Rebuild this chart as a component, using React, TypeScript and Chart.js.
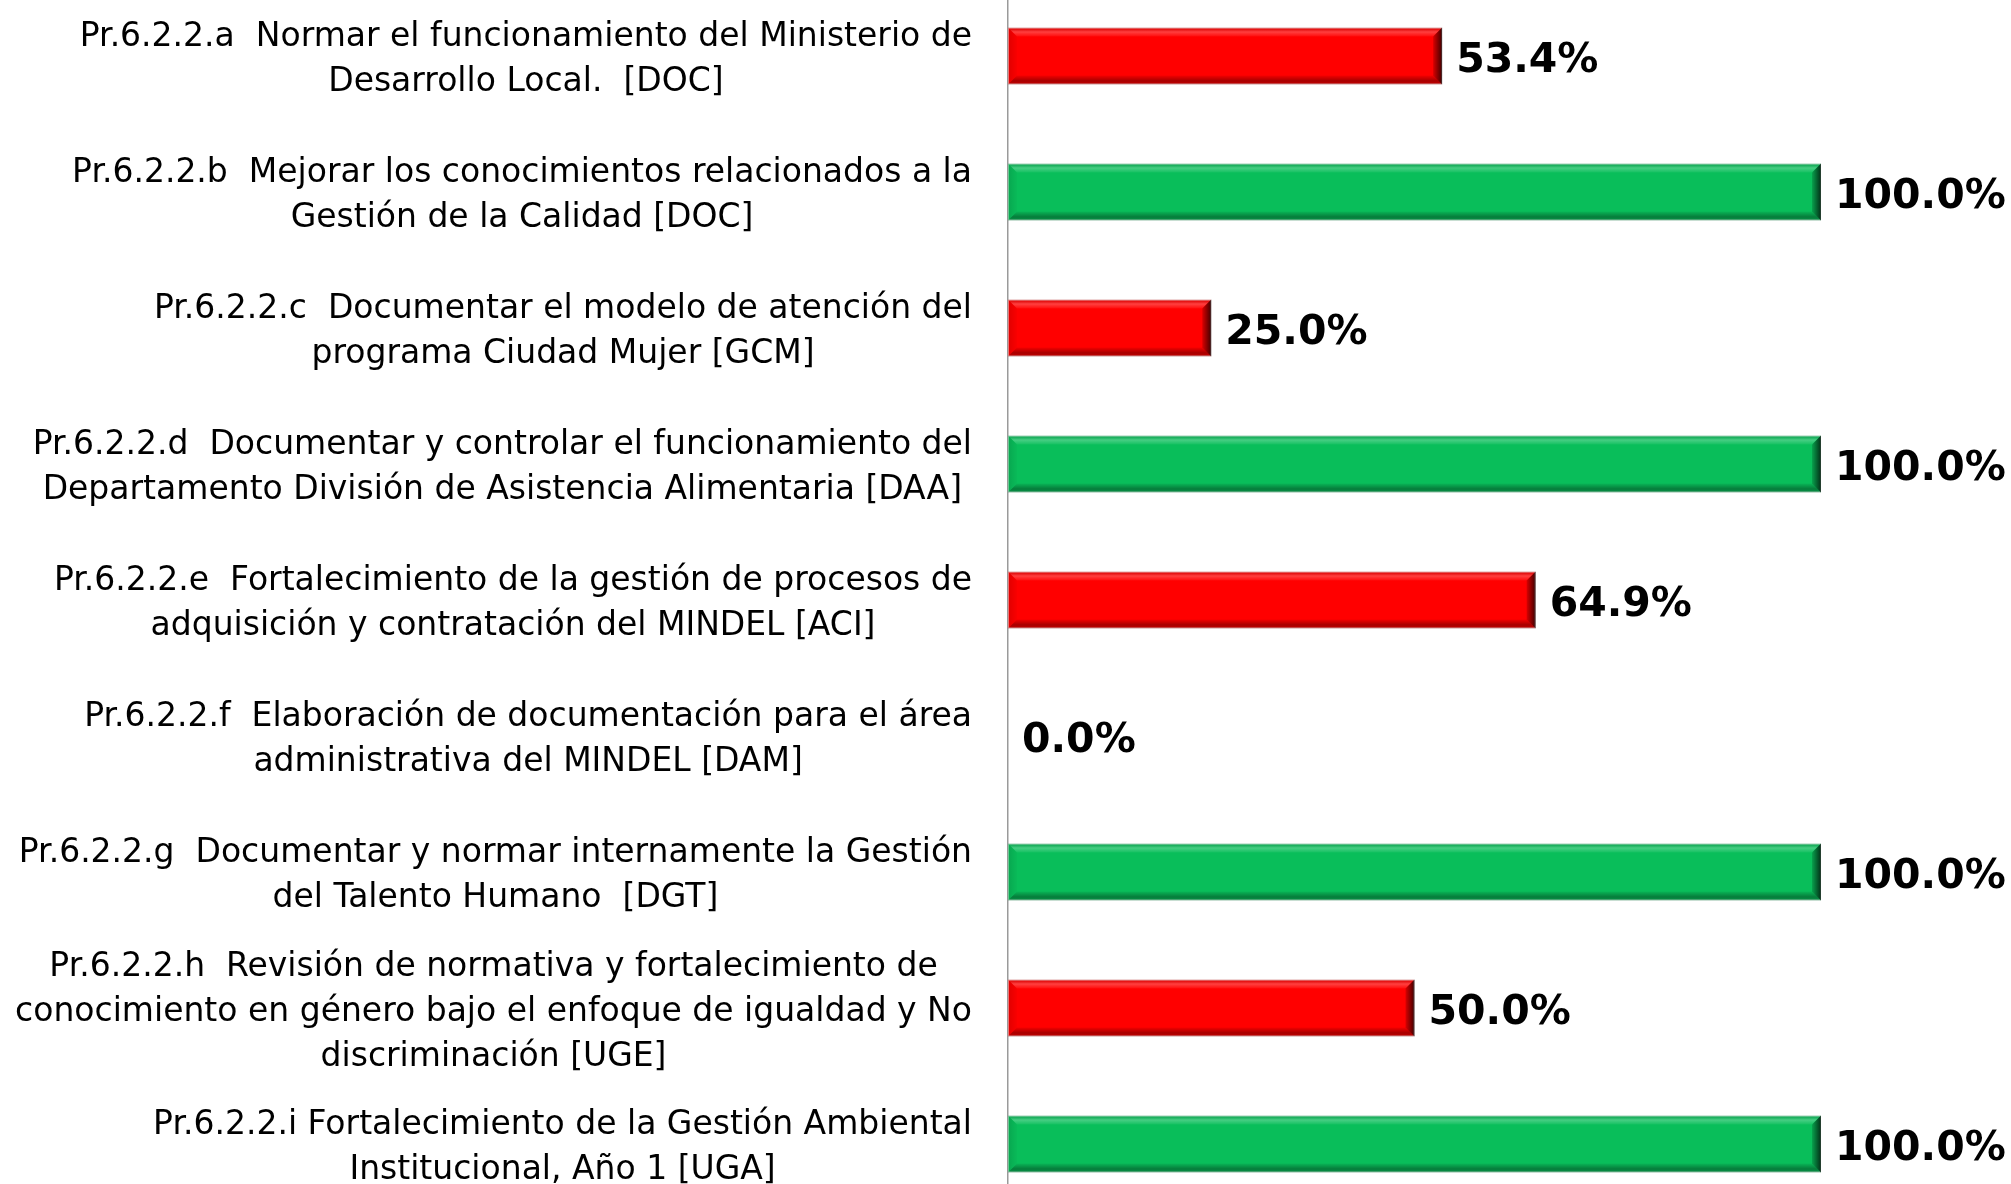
import { useEffect, useRef } from "react";
import { Chart, registerables } from "chart.js";

Chart.register(...registerables);

const categoryLabels: string[][] = [
  ["Pr.6.2.2.a  Normar el funcionamiento del Ministerio de", "Desarrollo Local.  [DOC]"],
  ["Pr.6.2.2.b  Mejorar los conocimientos relacionados a la", "Gestión de la Calidad [DOC]"],
  ["Pr.6.2.2.c  Documentar el modelo de atención del", "programa Ciudad Mujer [GCM]"],
  ["Pr.6.2.2.d  Documentar y controlar el funcionamiento del", "Departamento División de Asistencia Alimentaria [DAA]"],
  ["Pr.6.2.2.e  Fortalecimiento de la gestión de procesos de", "adquisición y contratación del MINDEL [ACI]"],
  ["Pr.6.2.2.f  Elaboración de documentación para el área", "administrativa del MINDEL [DAM]"],
  ["Pr.6.2.2.g  Documentar y normar internamente la Gestión", "del Talento Humano  [DGT]"],
  [
    "Pr.6.2.2.h  Revisión de normativa y fortalecimiento de",
    "conocimiento en género bajo el enfoque de igualdad y No",
    "discriminación [UGE]",
  ],
  ["Pr.6.2.2.i Fortalecimiento de la Gestión Ambiental", "Institucional, Año 1 [UGA]"],
];

const progressValues: number[] = [53.4, 100.0, 25.0, 100.0, 64.9, 0.0, 100.0, 50.0, 100.0];

const valueLabels: string[] = ["53.4%", "100.0%", "25.0%", "100.0%", "64.9%", "0.0%", "100.0%", "50.0%", "100.0%"];

const RED = "#FF0000";
const RED_BORDER = "#FF8A8A";
const GREEN = "#09BE5A";
const GREEN_BORDER = "#7EDDA6";

const LABEL_FONT = '33px "DejaVu Sans"';
const VALUE_FONT = 'bold 41px "DejaVu Sans"';

const bevelPlugin = {
  id: "bevel",
  afterDatasetsDraw(chart: any) {
    const ctx = chart.ctx as CanvasRenderingContext2D;
    const meta = chart.getDatasetMeta(0);
    meta.data.forEach((el: any) => {
      const left = Math.min(el.base, el.x);
      const right = Math.max(el.base, el.x);
      const top = el.y - el.height / 2;
      const bottom = el.y + el.height / 2;
      const w = right - left;
      if (w < 2) return;
      const b = Math.min(9, w / 2);
      ctx.save();
      let g = ctx.createLinearGradient(0, top, 0, top + b);
      g.addColorStop(0, "rgba(0,0,0,0.12)");
      g.addColorStop(0.5, "rgba(255,255,255,0.25)");
      g.addColorStop(1, "rgba(255,255,255,0.05)");
      ctx.fillStyle = g;
      ctx.beginPath();
      ctx.moveTo(left, top);
      ctx.lineTo(right, top);
      ctx.lineTo(right - b, top + b);
      ctx.lineTo(left + b, top + b);
      ctx.closePath();
      ctx.fill();
      g = ctx.createLinearGradient(0, bottom - b, 0, bottom);
      g.addColorStop(0, "rgba(0,0,0,0.05)");
      g.addColorStop(0.6, "rgba(0,0,0,0.35)");
      g.addColorStop(1, "rgba(0,0,0,0.2)");
      ctx.fillStyle = g;
      ctx.beginPath();
      ctx.moveTo(left, bottom);
      ctx.lineTo(right, bottom);
      ctx.lineTo(right - b, bottom - b);
      ctx.lineTo(left + b, bottom - b);
      ctx.closePath();
      ctx.fill();
      g = ctx.createLinearGradient(right - b, 0, right, 0);
      g.addColorStop(0, "rgba(0,0,0,0.15)");
      g.addColorStop(1, "rgba(0,0,0,0.75)");
      ctx.fillStyle = g;
      ctx.beginPath();
      ctx.moveTo(right, top);
      ctx.lineTo(right, bottom);
      ctx.lineTo(right - b, bottom - b);
      ctx.lineTo(right - b, top + b);
      ctx.closePath();
      ctx.fill();
      g = ctx.createLinearGradient(left, 0, left + b, 0);
      g.addColorStop(0, "rgba(0,0,0,0.12)");
      g.addColorStop(1, "rgba(0,0,0,0.02)");
      ctx.fillStyle = g;
      ctx.beginPath();
      ctx.moveTo(left, top);
      ctx.lineTo(left, bottom);
      ctx.lineTo(left + b, bottom - b);
      ctx.lineTo(left + b, top + b);
      ctx.closePath();
      ctx.fill();
      ctx.restore();
    });
  },
};

const textPlugin = {
  id: "texts",
  afterDraw(chart: any) {
    const ctx = chart.ctx as CanvasRenderingContext2D;
    const yScale = chart.scales.y;
    ctx.save();
    ctx.font = LABEL_FONT;
    ctx.fillStyle = "#000000";
    ctx.textAlign = "center";
    ctx.textBaseline = "middle";
    const lineH = 45;
    const rightEdge = yScale.right - 36;
    categoryLabels.forEach((lines, i) => {
      const cy = yScale.getPixelForValue(i) + 4;
      const blockW = Math.max(...lines.map((l) => ctx.measureText(l).width));
      const cx = rightEdge - blockW / 2;
      lines.forEach((line, j) => {
        const y = cy + (j - (lines.length - 1) / 2) * lineH;
        ctx.fillText(line, cx, y);
      });
    });
    ctx.font = VALUE_FONT;
    ctx.textAlign = "left";
    const meta = chart.getDatasetMeta(0);
    meta.data.forEach((el: any, i: number) => {
      ctx.fillText(valueLabels[i], Math.max(el.x, el.base) + 14, el.y + 5);
    });
    ctx.restore();
  },
};

export default function App() {
  const canvasRef = useRef<HTMLCanvasElement | null>(null);

  useEffect(() => {
    if (!canvasRef.current) return;
    const chart = new Chart(canvasRef.current, {
      type: "bar",
      data: {
        labels: categoryLabels.map((l) => l.join(" ")),
        datasets: [
          {
            data: progressValues,
            backgroundColor: progressValues.map((v) => (v >= 100 ? GREEN : RED)),
            borderColor: progressValues.map((v) => (v >= 100 ? GREEN_BORDER : RED_BORDER)),
            borderWidth: 1,
            borderSkipped: false,
            categoryPercentage: 1,
            barPercentage: 0.42,
          },
        ],
      },
      options: {
        indexAxis: "y",
        animation: false,
        responsive: false,
        maintainAspectRatio: false,
        layout: { padding: { left: 0, right: 190, top: 0, bottom: 0 } },
        plugins: {
          legend: { display: false },
          tooltip: { enabled: false },
          title: { display: false },
        },
        scales: {
          x: {
            display: false,
            min: 0,
            max: 100,
          },
          y: {
            grid: { display: false },
            border: { display: true, color: "#9A9A9A", width: 1.5 },
            ticks: { display: false },
            afterFit: (scale: any) => {
              scale.width = 1008;
            },
          },
        },
      },
      plugins: [bevelPlugin, textPlugin],
    });
    return () => chart.destroy();
  }, []);

  return (
    <div
      style={{
        position: "fixed",
        left: 0,
        top: 0,
        width: 2011,
        height: 1184,
        overflow: "hidden",
        background: "#ffffff",
      }}
    >
      <canvas
        ref={canvasRef}
        width={2011}
        height={1224}
        style={{ position: "absolute", left: 0, top: -12, width: 2011, height: 1224 }}
      />
    </div>
  );
}
